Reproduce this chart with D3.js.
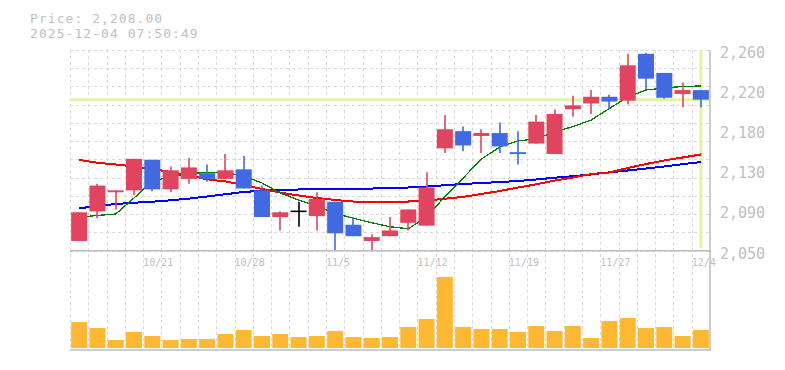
<!DOCTYPE html>
<html><head><meta charset="utf-8">
<script src="https://cdn.jsdelivr.net/npm/d3@7"></script>
<style>
html,body{margin:0;padding:0;background:#fff;}
svg{display:block;}
text{font-family:"DejaVu Sans Mono","Liberation Mono",monospace;fill:#c0c0c0;}
</style></head>
<body>
<script>
const dates = ["10/15","10/16","10/17","10/20","10/21","10/22","10/23","10/24","10/27","10/28","10/29","10/30","10/31","11/4","11/5","11/6","11/7","11/10","11/11","11/12","11/13","11/14","11/17","11/18","11/19","11/20","11/21","11/25","11/26","11/27","11/28","12/1","12/2","12/3","12/4"];
const open  = [2060,2091,2111,2113,2145,2114,2125,2131,2125,2135,2113,2085,2091,2086,2101,2077,2060,2065,2079,2076,2157,2175,2170,2173,2153,2162,2151,2198,2204,2211,2207,2256,2236,2214,2218];
const high  = [2090,2120,2113,2146,2145,2138,2147,2140,2151,2149,2118,2091,2101,2111,2101,2085,2067,2085,2093,2132,2192,2180,2177,2184,2175,2192,2198,2212,2218,2213,2256,2257,2236,2226,2218];
const low   = [2060,2084,2093,2108,2112,2111,2120,2122,2125,2115,2085,2071,2075,2071,2050,2065,2050,2065,2071,2076,2152,2154,2152,2152,2140,2162,2151,2190,2193,2198,2203,2218,2209,2200,2200];
const close = [2090,2118,2113,2146,2114,2134,2137,2125,2134,2115,2085,2090,2091,2104,2068,2065,2064,2071,2093,2116,2177,2160,2173,2159,2151,2185,2193,2202,2211,2206,2244,2230,2210,2218,2208];
const volume = [26,20,8,16,12,8,9,9,14,18,12,14,11,12,17,11,10,11,21,29,71,21,19,19,16,22,17,22,10,27,30,20,21,12,18];
const ma5  = [2084.8,2086.7,2088.2,2105.0,2122.5,2127.3,2130.4,2131.9,2131.5,2128.3,2120.7,2110.2,2102.9,2096.6,2089.0,2083.7,2079.1,2074.9,2072.8,2085.1,2106.4,2125.9,2145.8,2158.4,2164.7,2167.0,2174.4,2179.7,2186.7,2198.7,2210.8,2218.1,2220.2,2221.8,2222.3];
const ma25 = [2144.8,2141.9,2140.1,2138.0,2135.4,2132.2,2128.6,2124.6,2122.3,2118.6,2114.4,2110.7,2107.6,2105.0,2102.9,2101.3,2100.8,2100.8,2101.3,2102.4,2104.2,2106.2,2109.2,2112.3,2116.0,2119.3,2123.3,2126.5,2130.1,2131.7,2136.4,2140.6,2144.3,2147.4,2150.6];
const ma75 = [2094.2,2096.6,2098.7,2100.0,2101.1,2102.6,2104.3,2106.6,2108.9,2111.3,2112.6,2113.4,2113.9,2114.2,2114.4,2114.6,2114.9,2115.3,2116.0,2117.0,2118.4,2119.7,2120.7,2121.7,2122.8,2124.4,2126.2,2127.8,2129.6,2131.9,2133.8,2135.9,2138.0,2140.4,2142.7];
const priceTicks = [2050,2092,2134,2176,2218,2260];
const priceTickLabels = ["2,050","2,090","2,130","2,180","2,220","2,260"];
const dateTicks = ["10/21","10/28","11/5","11/12","11/19","11/27","12/4"];
const lastPrice = 2208;
const titleLines = ["Price: 2,208.00","2025-12-04 07:50:49"];

const W = 785, H = 370;
const L = 70, R = 710, PT = 50, PB = 250.5, VB = 348, VBorder = 350;
const svg = d3.select("body").append("svg").attr("width", W).attr("height", H);

const pad = 0.125;
const x = d3.scaleBand().domain(dates).range([L, R]).paddingInner(pad).paddingOuter(pad/2);
const bw = x.bandwidth(), step = x.step();
const cx = d => x(d) + bw/2;
const edge = d => x(d) - (step - bw)/2;
const y = d3.scaleLinear().domain([2050, 2260]).range([PB, PT]);
const yv = d3.scaleLinear().domain([0, 90]).range([VB, VB - 90]);

// grid
const g = svg.append("g");
const hGrid = d3.range(0, 12).map(k => 2050 + k * 210 / 11);
g.selectAll("line.h").data(hGrid).join("line")
  .attr("x1", L).attr("x2", R).attr("y1", d => Math.round(y(d)) + 0.5).attr("y2", d => Math.round(y(d)) + 0.5)
  .attr("stroke", "#d9d9d9").attr("stroke-dasharray", "3,3");
g.selectAll("line.v").data(dates).join("line")
  .attr("x1", d => Math.round(edge(d)) + 0.5).attr("x2", d => Math.round(edge(d)) + 0.5)
  .attr("y1", PT).attr("y2", VBorder)
  .attr("stroke", "#d9d9d9").attr("stroke-dasharray", "3,3");

// last price markers
const lime = "#e2f3a4";
svg.append("line").attr("x1", L).attr("x2", R).attr("y1", y(lastPrice)).attr("y2", y(lastPrice))
  .attr("stroke", lime).attr("stroke-width", 3);
svg.append("line").attr("x1", cx(dates[dates.length-1])).attr("x2", cx(dates[dates.length-1]))
  .attr("y1", PT).attr("y2", PB - 2).attr("stroke", lime).attr("stroke-width", 3);

// moving averages
function maLine(vals, color, w) {
  svg.append("path").datum(vals)
    .attr("fill", "none").attr("stroke", color).attr("stroke-width", w)
    .attr("shape-rendering", "crispEdges")
    .attr("d", d3.line().x((v, i) => cx(dates[i])).y(v => y(v)));
}
maLine(ma75, "#0000ff", 2);
maLine(ma25, "#ff0000", 2);
maLine(ma5, "#008000", 1.3);

// candles
const UP = "#e0445e", DOWN = "#4169e1";
const idx = d3.range(dates.length);
const colorOf = i => close[i] > open[i] ? UP : (close[i] < open[i] ? DOWN : "#000");
const cg = svg.append("g");
cg.selectAll("line.wick").data(idx).join("line")
  .attr("x1", i => Math.round(cx(dates[i]))).attr("x2", i => Math.round(cx(dates[i])))
  .attr("y1", i => y(high[i])).attr("y2", i => y(low[i]))
  .attr("stroke", colorOf).attr("stroke-width", 1.6);
cg.selectAll("rect.body").data(idx.filter(i => close[i] !== open[i])).join("rect")
  .attr("x", i => x(dates[i])).attr("width", bw)
  .attr("y", i => y(Math.max(open[i], close[i])))
  .attr("height", i => Math.max(1, Math.abs(y(open[i]) - y(close[i]))))
  .attr("fill", colorOf);
cg.selectAll("line.doji").data(idx.filter(i => close[i] === open[i])).join("line")
  .attr("x1", i => x(dates[i])).attr("x2", i => x(dates[i]) + bw)
  .attr("y1", i => y(open[i])).attr("y2", i => y(open[i]))
  .attr("stroke", "#000").attr("stroke-width", 1.6);

// volume
svg.append("g").selectAll("rect").data(idx).join("rect")
  .attr("x", i => x(dates[i])).attr("width", bw)
  .attr("y", i => yv(volume[i])).attr("height", i => VB - yv(volume[i]))
  .attr("fill", "#ffb833");

// date labels
svg.append("g").selectAll("text").data(dateTicks).join("text")
  .attr("x", d => edge(d)).attr("y", 266)
  .attr("font-size", 10).text(d => d);

// borders
const bc = "#bdbdbd";
svg.append("line").attr("x1", L).attr("x2", R + 0.7).attr("y1", PB + 0.3).attr("y2", PB + 0.3).attr("stroke", bc).attr("stroke-width", 1.5);
svg.append("line").attr("x1", L).attr("x2", R + 0.7).attr("y1", VBorder).attr("y2", VBorder).attr("stroke", bc).attr("stroke-width", 1.5);
svg.append("line").attr("x1", R).attr("x2", R).attr("y1", PT).attr("y2", VBorder).attr("stroke", bc).attr("stroke-width", 1.5);

// price axis
svg.append("g").selectAll("text").data(priceTicks).join("text")
  .attr("x", 720).attr("y", d => y(d) + 8)
  .attr("font-size", 15).text((d, i) => priceTickLabels[i]);

// title
svg.append("g").selectAll("text").data(titleLines).join("text")
  .attr("x", 30).attr("y", (d, i) => 23 + i * 15)
  .attr("font-size", 13).attr("letter-spacing", "1.05px").text(d => d);
</script>
</body></html>
